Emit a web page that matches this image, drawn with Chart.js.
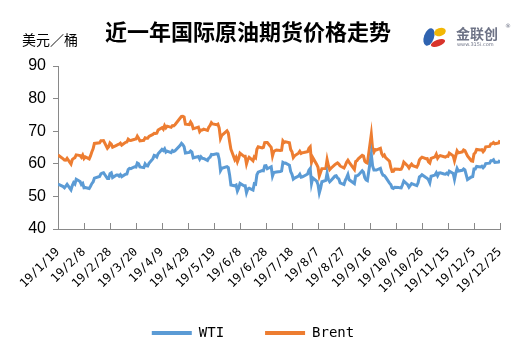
<!DOCTYPE html>
<html><head><meta charset="utf-8">
<script src="https://cdn.jsdelivr.net/npm/chart.js@4.4.0/dist/chart.umd.min.js"></script>
<style>html,body{margin:0;padding:0;background:#fff;}#wrap{width:532px;height:354px;position:relative;}</style>
</head><body><div id="wrap"><canvas id="c" width="532" height="354"></canvas></div>
<script>
const chartTitle = '近一年国际原油期货价格走势';
const unitLabel = '美元／桶';
const seriesNames = ['WTI', 'Brent'];
const startDay = '1/19';
const tickStepDays = 20;
const spanDays = 340;
const yMin = 40, yMax = 90, yStep = 10;

const dates = ['1/19','1/23','1/24','1/25','1/26','1/29','1/30','1/31',
'2/1','2/2','2/5','2/6','2/7','2/8','2/9','2/12','2/13','2/14','2/15','2/16','2/20','2/21','2/22','2/23','2/26','2/27','2/28',
'3/1','3/2','3/5','3/6','3/7','3/8','3/9','3/12','3/13','3/14','3/15','3/16','3/19','3/20','3/21','3/22','3/23','3/26','3/27','3/28','3/29','3/30',
'4/2','4/3','4/4','4/5','4/6','4/9','4/10','4/11','4/12','4/13','4/16','4/17','4/18','4/19','4/23','4/24','4/25','4/26','4/27','4/30',
'5/1','5/2','5/3','5/4','5/7','5/8','5/9','5/10','5/11','5/14','5/15','5/16','5/17','5/18','5/21','5/22','5/23','5/24','5/25','5/29','5/30','5/31',
'6/1','6/4','6/5','6/6','6/7','6/8','6/11','6/12','6/13','6/14','6/15','6/18','6/19','6/20','6/21','6/22','6/25','6/26','6/27','6/28','6/29',
'7/2','7/3','7/4','7/6','7/9','7/10','7/11','7/12','7/13','7/16','7/17','7/18','7/19','7/20','7/23','7/24','7/25','7/26','7/27','7/30','7/31',
'8/1','8/2','8/3','8/6','8/7','8/8','8/9','8/10','8/13','8/14','8/15','8/16','8/17','8/20','8/21','8/22','8/23','8/24','8/27','8/28','8/29','8/30','8/31',
'9/4','9/5','9/6','9/7','9/10','9/11','9/12','9/13','9/14','9/17','9/18','9/19','9/20','9/21','9/24','9/25','9/26','9/27','9/28',
'10/1','10/2','10/3','10/4','10/5','10/8','10/9','10/10','10/11','10/12','10/15','10/16','10/17','10/18','10/19','10/22','10/23','10/24','10/25','10/26','10/29','10/30','10/31',
'11/1','11/2','11/5','11/6','11/7','11/8','11/9','11/12','11/13','11/14','11/15','11/16','11/19','11/20','11/21','11/22','11/23','11/26','11/27','11/28','11/30',
'12/3','12/4','12/5','12/6','12/7','12/10','12/11','12/12','12/13','12/14','12/17','12/18','12/19','12/20','12/21','12/24','12/25'];

const wti = [53.80,53.01,52.62,53.13,53.69,51.99,53.31,54.23,
53.79,55.26,54.56,53.66,54.01,52.64,52.72,52.41,53.10,53.90,54.41,55.59,56.09,56.92,57.16,57.26,55.48,55.50,56.94,
57.22,55.80,56.59,56.56,56.22,56.66,56.07,56.79,56.87,58.26,58.61,58.52,59.09,59.03,60.23,59.98,59.04,58.82,59.94,59.41,59.30,60.14,
61.59,62.58,62.46,62.10,63.08,64.40,64.05,64.61,63.58,63.89,63.40,64.05,63.76,64.00,65.70,66.30,65.89,65.21,63.30,63.50,
63.91,63.60,61.81,61.94,62.25,61.40,62.12,61.70,61.66,61.04,61.78,62.02,62.87,62.76,63.10,62.99,61.42,57.91,58.63,59.14,58.81,56.59,
53.50,53.25,53.48,51.68,52.59,53.99,53.26,53.27,51.14,52.28,52.51,51.93,53.90,53.76,56.65,57.43,57.90,57.83,59.38,59.43,58.47,
59.09,56.25,57.34,57.51,57.66,57.83,60.43,60.20,60.21,59.58,57.62,56.78,55.30,55.63,56.22,56.77,55.88,56.02,56.20,56.87,58.05,
58.58,53.95,55.66,54.69,53.63,51.09,52.54,54.50,54.93,57.10,55.23,54.47,54.87,56.21,56.34,55.68,55.35,54.17,53.64,54.93,55.78,56.71,55.10,
53.94,56.26,56.30,56.52,57.85,57.40,55.75,55.09,54.85,62.90,59.34,58.11,58.13,58.09,58.64,57.29,56.49,56.41,55.91,
54.07,53.62,52.64,52.45,52.81,52.75,52.63,52.59,53.55,54.70,53.59,52.81,53.36,53.93,53.78,53.31,54.16,55.97,56.23,56.66,55.81,55.54,55.06,
54.18,56.20,56.54,57.23,56.35,57.15,57.24,56.86,56.80,57.12,56.77,57.72,57.05,55.21,57.11,58.58,57.77,58.01,58.41,58.11,55.17,
55.96,56.10,58.43,58.43,59.20,59.02,59.24,58.76,59.18,60.07,60.21,60.94,60.93,61.22,60.44,60.52,61.11];

const brent = [62.70,61.50,61.14,61.09,61.64,59.93,61.32,61.65,
61.89,62.75,62.51,61.98,62.69,61.63,62.10,61.51,62.42,63.61,64.57,66.25,66.45,67.08,67.07,67.12,64.76,65.21,66.39,
66.03,65.07,65.67,65.86,65.99,66.30,65.74,66.58,66.67,67.55,67.23,67.16,67.54,67.61,68.50,67.86,67.03,67.21,67.97,67.83,67.82,68.39,
69.01,69.37,69.31,69.40,70.34,71.10,70.61,71.73,71.02,71.55,71.18,71.72,71.62,71.97,74.04,74.51,74.57,74.35,72.15,72.04,
72.80,72.18,70.75,70.85,71.24,69.88,70.37,70.39,70.62,70.23,71.24,71.77,72.62,72.21,71.97,72.18,70.99,67.76,68.69,70.11,69.45,66.87,
64.49,61.28,61.97,60.63,61.67,63.29,62.29,62.29,59.97,61.31,62.01,60.94,62.14,61.82,64.45,65.20,64.86,65.05,66.49,66.55,66.55,
65.06,62.40,63.82,64.23,64.11,64.16,67.01,66.52,66.72,66.48,64.35,63.66,61.93,62.47,63.26,63.83,63.18,63.39,63.46,63.71,64.72,
65.17,60.50,61.89,59.81,58.94,56.23,57.38,58.53,58.57,61.30,59.48,58.23,58.64,59.74,60.03,60.30,59.92,59.34,58.70,59.51,60.49,61.08,60.43,
58.26,60.70,60.95,61.54,62.59,62.38,60.81,60.38,60.22,69.02,64.55,63.60,64.40,64.28,64.77,63.10,62.39,62.74,61.91,
60.78,58.89,57.69,57.71,58.37,58.35,58.24,58.32,59.10,60.51,59.35,58.74,59.42,59.91,59.42,58.96,59.70,61.17,61.67,62.02,61.57,61.59,60.61,
60.23,61.69,62.13,62.96,61.74,62.29,62.51,62.18,62.06,62.37,62.28,63.30,62.44,60.91,62.40,63.97,63.39,63.65,64.27,64.06,62.43,
60.92,60.82,63.00,63.39,64.39,64.25,64.34,63.72,64.20,65.22,65.34,66.10,66.17,66.54,66.14,66.39,67.20];

const seriesColors = ['#5B9BD5', '#ED7D31'];

function dayOffset(md) {
  const [m, d] = md.split('/').map(Number);
  const [m0, d0] = startDay.split('/').map(Number);
  return Math.round((Date.UTC(2019, m - 1, d) - Date.UTC(2019, m0 - 1, d0)) / 86400000);
}
function dayLabel(off) {
  const [m0, d0] = startDay.split('/').map(Number);
  const dt = new Date(Date.UTC(2019, m0 - 1, d0 + off));
  return '19/' + (dt.getUTCMonth() + 1) + '/' + dt.getUTCDate();
}
const toPoints = vals => dates.map((d, i) => ({x: dayOffset(d), y: vals[i]}));

const axisColor = '#898989';

const layoutTweak = {
  id: 'layoutTweak',
  afterLayout(chart) {
    if (chart.legend) { chart.legend.left += 3; chart.legend.right += 3; }
    // let rotated date labels extend below the legend's top edge without clipping
    chart.scales.x.bottom = chart.height;
  }
};

const decor = {
  id: 'decor',
  afterDraw(chart) {
    const ctx = chart.ctx;
    ctx.save();
    ctx.fillStyle = '#000';
    ctx.textBaseline = 'middle';
    ctx.textAlign = 'center';
    ctx.font = 'bold 22px "Noto Sans CJK SC"';
    ctx.fillText(chartTitle, 248, 32);
    ctx.textAlign = 'left';
    ctx.font = '14px "Noto Sans CJK SC"';
    ctx.fillText(unitLabel, 22, 40);
    // logo
    const ell = (x, y, rx, ry, rot, col) => {
      ctx.fillStyle = col; ctx.beginPath(); ctx.ellipse(x, y, rx, ry, rot, 0, Math.PI * 2); ctx.fill();
    };
    ell(429, 37, 5, 9, 0.35, '#2F63B0');
    ell(440, 32, 6, 4, -0.35, '#F2B705');
    ell(438, 43, 7.5, 3.2, -0.35, '#D8342B');
    ctx.fillStyle = '#6E7386';
    ctx.font = 'bold 14px "Noto Sans CJK SC"';
    ctx.fillText('金联创', 456, 34);
    ctx.font = '5px "DejaVu Sans"';
    ctx.fillText('www.315i.com', 457, 45);
    ctx.font = '6px "DejaVu Sans"';
    ctx.fillText('®', 505, 26);
    // inner x tick marks
    const xs = chart.scales.x;
    const b = chart.chartArea.bottom;
    ctx.strokeStyle = axisColor; ctx.lineWidth = 1;
    xs.ticks.forEach(t => {
      const px = Math.round(xs.getPixelForValue(t.value)) + 0.5;
      ctx.beginPath(); ctx.moveTo(px, b); ctx.lineTo(px, b - 6); ctx.stroke();
    });
    ctx.restore();
  }
};

new Chart(document.getElementById('c'), {
  type: 'line',
  data: {
    datasets: [
      {label: seriesNames[0], data: toPoints(wti), borderColor: seriesColors[0], backgroundColor: seriesColors[0], borderWidth: 3, pointRadius: 0, tension: 0},
      {label: seriesNames[1], data: toPoints(brent), borderColor: seriesColors[1], backgroundColor: seriesColors[1], borderWidth: 3, pointRadius: 0, tension: 0}
    ]
  },
  options: {
    responsive: false,
    animation: false,
    layout: {padding: {top: 66, right: 32, left: 0, bottom: 4}},
    plugins: {
      title: {display: false},
      tooltip: {enabled: false},
      legend: {
        position: 'bottom',
        labels: {
          boxWidth: 40, boxHeight: 4, padding: 41, color: '#000',
          font: {family: '"DejaVu Sans Mono"', size: 14},
          generateLabels(chart) {
            return Chart.defaults.plugins.legend.labels.generateLabels(chart).map(it => Object.assign(it, {lineWidth: 0, strokeStyle: 'rgba(0,0,0,0)'}));
          }
        }
      }
    },
    scales: {
      x: {
        type: 'linear', min: 0, max: spanDays,
        afterFit(s) { s.height = 56; },
        ticks: {stepSize: tickStepDays, autoSkip: false, minRotation: 45, maxRotation: 45, padding: 16, color: '#000',
          font: {family: '"DejaVu Sans Mono"', size: 12}, callback: v => dayLabel(v)},
        grid: {display: true, drawOnChartArea: false, drawTicks: false, color: axisColor},
        border: {display: true, color: axisColor, width: 1}
      },
      y: {
        min: yMin, max: yMax,
        afterFit(s) { s.width = 58; },
        ticks: {stepSize: yStep, padding: 7, color: '#000', font: {family: '"Liberation Sans"', size: 16}},
        grid: {display: true, drawOnChartArea: false, drawTicks: true, tickLength: 5, color: axisColor},
        border: {display: true, color: axisColor, width: 1}
      }
    }
  },
  plugins: [decor, layoutTweak]
});
</script>
</body></html>
